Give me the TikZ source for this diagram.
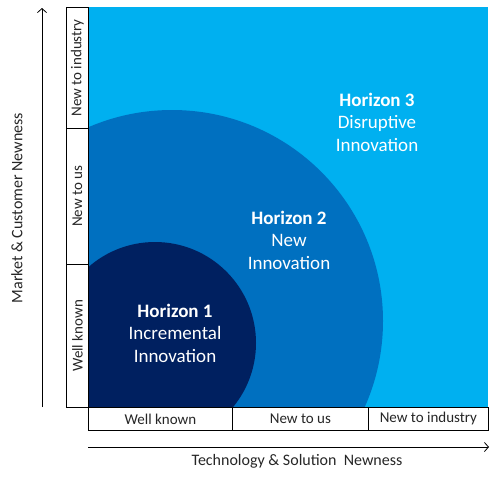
\documentclass[tikz,border=0pt]{standalone}
\usepackage{fontspec}
\setmainfont{Carlito}
\usetikzlibrary{arrows.meta}
\definecolor{hlight}{HTML}{00B0F0}
\definecolor{hmid}{HTML}{0070C0}
\definecolor{hdark}{HTML}{002060}
\definecolor{axtext}{HTML}{262626}
\begin{document}
\begin{tikzpicture}[x=1pt,y=-1pt,
  labelbox/.style={draw=black,line width=0.8pt,fill=white,inner sep=0pt,
    font=\fontsize{15}{18}\selectfont,text=axtext},
  horizon/.style={align=center,text=white,
    font=\fontsize{19}{22.5}\selectfont},
  axis/.style={line width=0.8pt,-{Straight Barb[length=4pt,width=9pt]}},
  axlabel/.style={font=\fontsize{15}{18}\selectfont,text=axtext},
  titlelabel/.style={font=\fontsize{16}{19}\selectfont,text=axtext}]
\useasboundingbox (0,0) rectangle (497,482);

% horizon areas
\fill[hlight] (88,7) rectangle (488,407);
\begin{scope}
  \clip (88,7) rectangle (488,407);
  \fill[hmid] (172,321) circle[radius=211];
  \fill[hdark] (155,343) circle[radius=101];
\end{scope}

% row and column headings
\node[labelbox,minimum width=22pt,minimum height=121pt,anchor=north west] (c3) at (66,7) {};
\node[labelbox,minimum width=22pt,minimum height=136pt,anchor=north west] (c2) at (66,128) {};
\node[labelbox,minimum width=22pt,minimum height=143pt,anchor=north west] (c1) at (66,264) {};
\node[axlabel,rotate=90] at (c3) {New to industry};
\node[axlabel,rotate=90] at (c2) {New to us};
\node[axlabel,rotate=90] at (c1) {Well known};

\node[labelbox,minimum width=144pt,minimum height=23pt,anchor=north west] (r1) at (88,407) {Well known};
\node[labelbox,minimum width=136pt,minimum height=23pt,anchor=north west] (r2) at (232,407) {New to us};
\node[labelbox,minimum width=120pt,minimum height=23pt,anchor=north west] (r3) at (368,407) {New to industry};

% axes
\coordinate (ya) at (42,407);
\coordinate (yb) at (42,8);
\coordinate (xa) at (88,447);
\coordinate (xb) at (489,447);
\draw[axis] (ya) -- (yb);
\draw[axis] (xa) -- (xb);
\node[titlelabel] (xl) at (297,461) {Technology \& Solution\ \ Newness};
\node[titlelabel,rotate=90] (yl) at (17,208) {Market \& Customer Newness};

% horizon labels
\node[horizon] (h1) at (175,333) {\textbf{Horizon 1}\\Incremental\\Innovation};
\node[horizon] (h2) at (289,240) {\textbf{Horizon 2}\\New\\Innovation};
\node[horizon] (h3) at (377,122) {\textbf{Horizon 3}\\Disruptive\\Innovation};
\end{tikzpicture}
\end{document}
